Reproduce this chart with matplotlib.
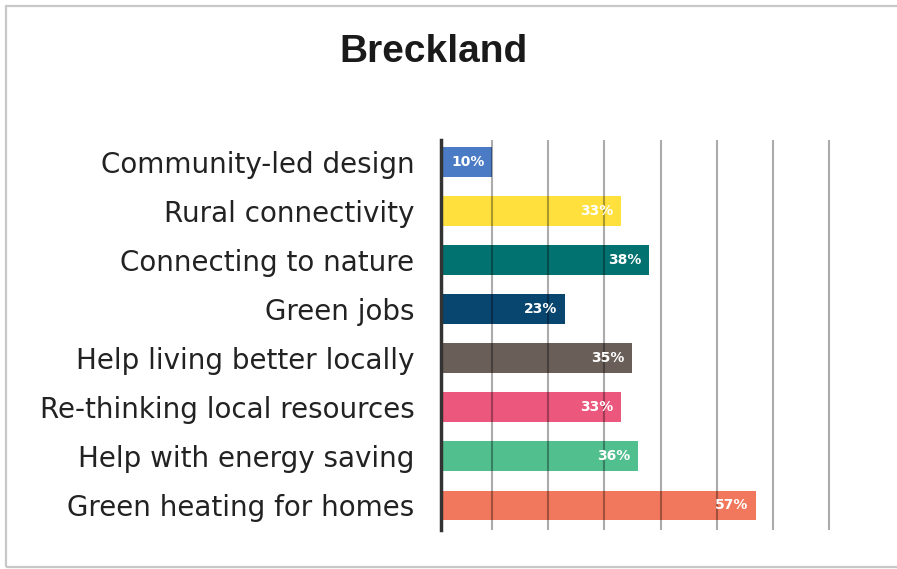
import matplotlib.pyplot as plt
from matplotlib.patches import Rectangle

categories = ["Community-led design", "Rural connectivity", "Connecting to nature",
              "Green jobs", "Help living better locally", "Re-thinking local resources",
              "Help with energy saving", "Green heating for homes"]
values = [10, 33, 38, 23, 35, 33, 36, 57]
colors = ["#4A7BC4", "#FFE03C", "#027271", "#09466F", "#6A5F58", "#EC577D", "#52BF8F", "#F1785C"]
ticks = [10, 20, 30, 40, 50, 60, 70]

fig = plt.figure(figsize=(8.97, 5.69), dpi=100)
fig.patch.set_facecolor("white")

# light grey frame, open on the right like the cropped original
fig.patches.append(Rectangle((6 / 897, 2 / 569), 1.2, 561 / 569, transform=fig.transFigure,
                             fill=False, edgecolor="#C8C8C8", linewidth=1.6, clip_on=False))

fig.text(433 / 897, 1 - 52 / 569, "Breckland", ha="center", va="center",
         fontsize=28, fontweight="bold", family="Liberation Sans", color="#1a1a1a")

ax = fig.add_axes([441 / 897, 39 / 569, 390 / 897, 390 / 569])
y = list(range(len(categories)))
ax.barh(y, values, height=0.61, color=colors, zorder=1)

for yi, v in zip(y, values):
    ax.annotate(f"{v}%", (v, yi), xytext=(-5.5, 0), textcoords="offset points",
                ha="right", va="center", color="white", fontsize=10, fontweight="bold",
                family="DejaVu Sans", zorder=4)

for t in ticks:
    ax.axvline(t, color="black", alpha=0.33, linewidth=1.5, zorder=3)

# axis line sits a little right of the zero point, as in the original
ax.set_xlim(0.9, 70.35)
ax.set_ylim(7.5, -0.45)
ax.set_yticks(y)
ax.set_yticklabels(categories, fontsize=20, family="DejaVu Sans", color="#222222")
ax.tick_params(axis="y", length=0, pad=19)
ax.set_xticks([])
for s in ["top", "right", "bottom"]:
    ax.spines[s].set_visible(False)
ax.spines["left"].set_color("#333333")
ax.spines["left"].set_linewidth(2.5)
ax.spines["left"].set_zorder(5)

fig.savefig("out.png", dpi=100)
